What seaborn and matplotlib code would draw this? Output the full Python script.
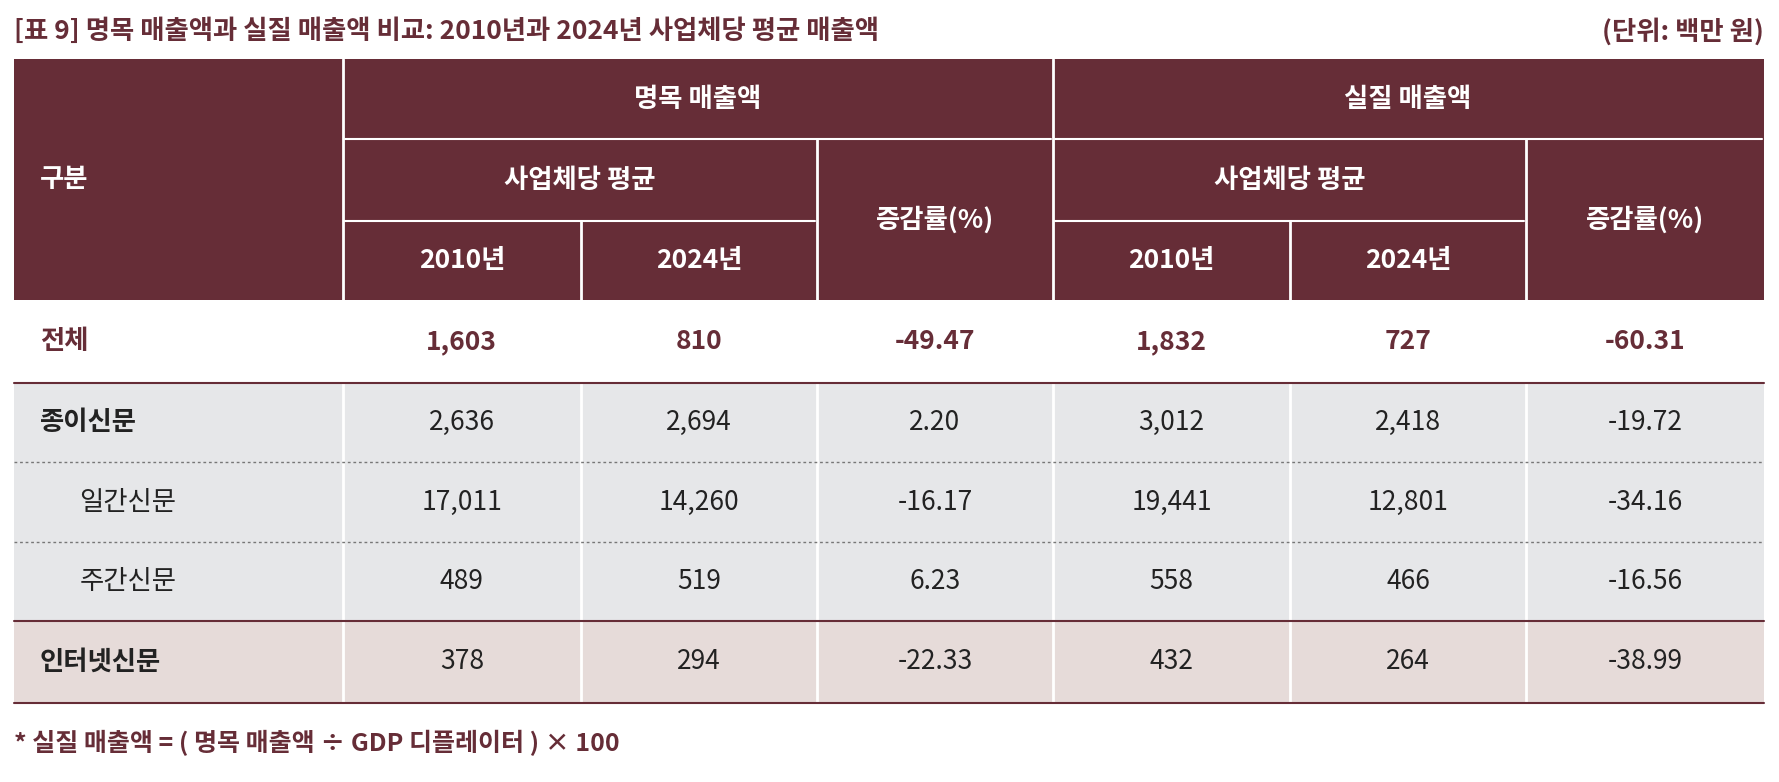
import matplotlib
matplotlib.use("Agg")
import matplotlib.pyplot as plt
import matplotlib.patches as mpatches
import seaborn as sns

sns.set_theme(style="white")
plt.rcParams['font.family'] = ['Noto Sans CJK KR', 'DejaVu Sans']

title = "[표 9] 명목 매출액과 실질 매출액 비교: 2010년과 2024년 사업체당 평균 매출액"
unit = "(단위: 백만 원)"
footnote = "* 실질 매출액 = ( 명목 매출액 ÷ GDP 디플레이터 ) × 100"

row_labels = ["전체", "종이신문", "일간신문", "주간신문", "인터넷신문"]
nominal_2010 = ["1,603", "2,636", "17,011", "489", "378"]
nominal_2024 = ["810", "2,694", "14,260", "519", "294"]
nominal_chg = ["-49.47", "2.20", "-16.17", "6.23", "-22.33"]
real_2010 = ["1,832", "3,012", "19,441", "558", "432"]
real_2024 = ["727", "2,418", "12,801", "466", "264"]
real_chg = ["-60.31", "-19.72", "-34.16", "-16.56", "-38.99"]

MAROON = "#662d37"
GREY = "#e6e7e9"
PINK = "#e6dbd9"
TXT = "#222222"

W, H = 1568, 690
fig = plt.figure(figsize=(17.79, 7.82), dpi=100)
ax = fig.add_axes([0, 0, 1, 1])
ax.set_xlim(0, W)
ax.set_ylim(H, 0)
ax.axis("off")

xs = [12, 302, 512, 720, 928, 1137, 1345, 1555]
hy = [52, 123, 195, 265]
ry = [265, 338, 408, 478, 548, 620]
fs = 19

def rect(x0, y0, x1, y1, c):
    ax.add_patch(mpatches.Rectangle((x0, y0), x1 - x0, y1 - y0, color=c, lw=0))

# header
rect(xs[0], hy[0], xs[-1], hy[-1], MAROON)
for x in xs[1:-1]:
    y0 = hy[0] if x in (302, 928) else (hy[1] if x in (720, 1345) else hy[2])
    ax.plot([x, x], [y0, hy[-1]], color="white", lw=2)
for a, b in [(302, 928), (928, 1555)]:
    ax.plot([a + 2, b - 2], [hy[1], hy[1]], color="white", lw=1.5)
for a, b in [(302, 720), (928, 1345)]:
    ax.plot([a + 2, b - 2], [hy[2], hy[2]], color="white", lw=1.5)

hk = dict(color="white", fontsize=fs, fontweight="bold", ha="center", va="center")
ax.text(35, 158, "구분", **{**hk, "ha": "left"})
ax.text(615, 88, "명목 매출액", **hk)
ax.text(1241, 88, "실질 매출액", **hk)
for a, b in [(302, 720), (928, 1345)]:
    ax.text((a + b) / 2, 159, "사업체당 평균", **hk)
for c in [407, 616, 1032, 1241]:
    ax.text(c, 230, "2010년" if c in (407, 1032) else "2024년", **hk)
ax.text(824, 194, "증감률(%)", **hk)
ax.text(1450, 194, "증감률(%)", **hk)

# body backgrounds
bgs = ["white", GREY, GREY, GREY, PINK]
for i, c in enumerate(bgs):
    rect(xs[0], ry[i], xs[-1], ry[i + 1], c)
for x in xs[1:-1]:
    ax.plot([x, x], [ry[1], ry[-1]], color="white", lw=2)
ax.plot([xs[0], xs[-1]], [ry[1], ry[1]], color=MAROON, lw=1.5)
ax.plot([xs[0], xs[-1]], [ry[4], ry[4]], color=MAROON, lw=1.5)
ax.plot([xs[0], xs[-1]], [ry[5], ry[5]], color=MAROON, lw=1.5)
for y in (ry[2], ry[3]):
    ax.plot([xs[0], xs[-1]], [y, y], color="#777777", lw=1, ls=(0, (2, 2)))

cols = [nominal_2010, nominal_2024, nominal_chg, real_2010, real_2024, real_chg]
for i, lab in enumerate(row_labels):
    yc = (ry[i] + ry[i + 1]) / 2
    if i == 0:
        kw = dict(color=MAROON, fontweight="bold")
    else:
        kw = dict(color=TXT)
    lx = 70 if i in (2, 3) else 35
    ax.text(lx, yc, lab, fontsize=fs, va="center", ha="left",
            fontweight="bold" if i in (0, 1, 4) else "normal",
            color=MAROON if i == 0 else TXT)
    for j, col in enumerate(cols):
        ax.text((xs[j + 1] + xs[j + 2]) / 2, yc, col[i], fontsize=fs,
                ha="center", va="center", **kw)

ax.text(12, 28, title, fontsize=fs, fontweight="bold", color=MAROON, va="center")
ax.text(1555, 28, unit, fontsize=fs, fontweight="bold", color=MAROON, va="center", ha="right")
ax.text(12, 656, footnote, fontsize=fs - 1, fontweight="bold", color=MAROON, va="center")

fig.savefig("out.png", dpi=100)
